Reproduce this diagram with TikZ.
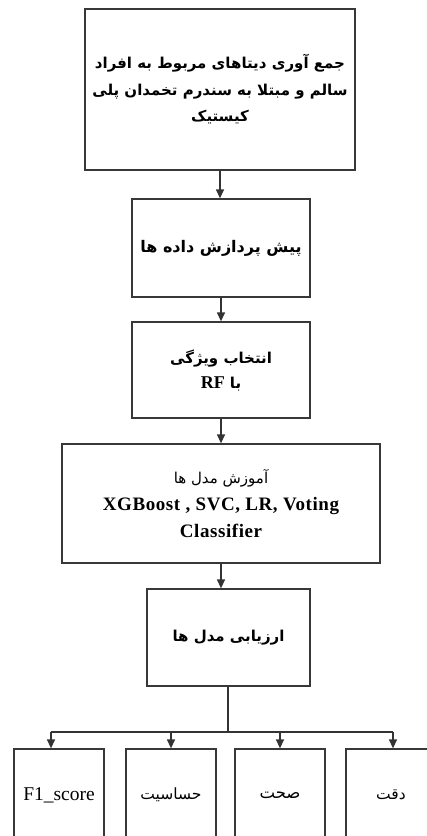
\documentclass[tikz,border=0pt]{standalone}
\usepackage{fontspec}
\usetikzlibrary{arrows.meta}
\TeXXeTstate=1
\setmainfont{Liberation Serif}
\newfontfamily\spacedfont[LetterSpace=3]{Liberation Serif}
\newfontfamily\arabicfont[Script=Arabic]{DejaVu Sans}
\newcommand{\fa}[1]{{\arabicfont\beginR #1\endR}}
\newcommand{\fab}[1]{{\arabicfont\bfseries\beginR #1\endR}}
\begin{document}
\begin{tikzpicture}[x=1pt,y=-1pt,
  box/.style={draw=black!78, line width=1.3pt, fill=white, inner sep=0pt, align=center},
  conn/.style={draw=black!80, line width=1.3pt},
  arr/.style={conn, -{Triangle[width=8pt,length=9pt]}}]
\useasboundingbox (0,0) rectangle (427,836);
\clip (0,0) rectangle (427,836);
\fill[white] (0,0) rectangle (427,836);

\node[box, minimum width=270, minimum height=161, font=\fontsize{15}{26.5}\selectfont] (b1) at (220,89.5)
  {\fab{جمع آوری دیتاهای مربوط به افراد}\\ \fab{سالم و مبتلا به سندرم تخمدان پلی}\\ \fab{کیستیک}};
\node[box, minimum width=178, minimum height=98, font=\fontsize{16}{26}\selectfont] (b2) at (221,248)
  {\fab{پیش پردازش داده ها}};
\node[box, minimum width=178, minimum height=96, font=\fontsize{15}{25}\selectfont] (b3) at (221,370)
  {\fab{انتخاب ویژگی}\\ {\arabicfont\bfseries\beginR با \beginL{\rmfamily\fontsize{18}{25}\selectfont RF}\endL\endR}};
\node[box, minimum width=318, minimum height=119, font=\fontsize{19}{27}\selectfont] (b4) at (221,503.5)
  {{\fontsize{15}{27}\selectfont\fa{آموزش مدل ها}}\\ {\spacedfont\bfseries XGBoost , SVC, LR, Voting}\\ {\spacedfont\bfseries Classifier}};
\node[box, minimum width=163, minimum height=97, font=\fontsize{15}{26}\selectfont] (b5) at (228.5,637.5)
  {\fab{ارزیابی مدل ها}};

\node[box, minimum width=90, minimum height=92, font=\fontsize{19.5}{24}\selectfont] (m1) at (59,795) {F1\_score};
\node[box, minimum width=90, minimum height=92, font=\fontsize{15.5}{24}\selectfont] (m2) at (171,795) {\fa{حساسیت}};
\node[box, minimum width=90, minimum height=92, font=\fontsize{16.5}{24}\selectfont] (m3) at (280,795) {\fa{صحت}};
\node[box, minimum width=90, minimum height=92, font=\fontsize{15.5}{24}\selectfont] (m4) at (391,795) {\fa{دقت}};

\draw[arr] (b1.south) -- (b1.south |- b2.north);
\draw[arr] (b2.south) -- (b3.north);
\draw[arr] (b3.south) -- (b4.north);
\draw[arr] (b4.south) -- (b4.south |- b5.north);

\coordinate (sp) at (228,732);
\coordinate (t1) at ([xshift=-8pt]m1.north);
\coordinate (t4) at ([xshift=2pt]m4.north);
\draw[conn] (sp |- b5.south) -- (sp);
\draw[conn] (t1 |- sp) -- (t4 |- sp);
\draw[arr] (t1 |- sp) -- (t1);
\draw[arr] (m2.north |- sp) -- (m2.north);
\draw[arr] (m3.north |- sp) -- (m3.north);
\draw[arr] (t4 |- sp) -- (t4);
\end{tikzpicture}
\end{document}
